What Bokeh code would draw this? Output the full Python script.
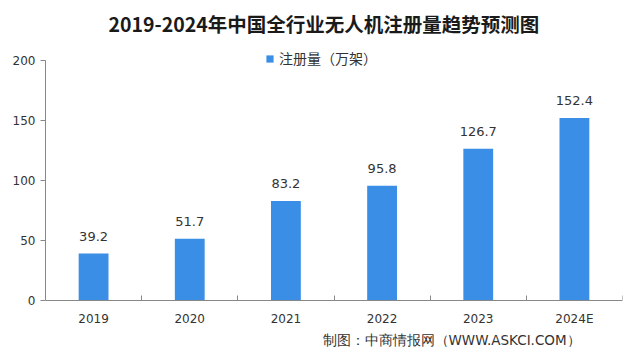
from bokeh.plotting import figure
from bokeh.models import (ColumnDataSource, FixedTicker, Range1d, Legend, LegendItem,
                          Title, Label)
from bokeh.core.properties import value
from bokeh.embed import file_html
from bokeh.resources import INLINE

years = ["2019", "2020", "2021", "2022", "2023", "2024E"]
registrations = [39.2, 51.7, 83.2, 95.8, 126.7, 152.4]
y_ticks = [0, 50, 100, 150, 200]
title_text = "2019-2024年中国全行业无人机注册量趋势预测图"
series_name = "注册量（万架）"
source_text = "制图：中商情报网（WWW.ASKCI.COM）"

BAR = "#3A8EE6"
TXT = "#333333"
CJK = "Noto Sans CJK SC"

xs = [i + 0.5 for i in range(len(years))]
src = ColumnDataSource(dict(x=xs, y=registrations,
                            label=[f"{v:.1f}" for v in registrations]))

p = figure(width=624, height=347, output_backend="svg", toolbar_location=None,
           x_range=Range1d(0, len(years)), y_range=Range1d(-39.17, 214.58),
           min_border_left=45, min_border_right=2, min_border_top=34,
           min_border_bottom=0)
p.title = None
p.outline_line_color = None
p.xgrid.grid_line_color = None
p.ygrid.grid_line_color = None
p.background_fill_color = "white"
p.border_fill_color = "white"

r = p.vbar(x="x", top="y", width=0.31, source=src, color=BAR, line_color=None)

p.text(x="x", y="y", text="label", source=src, text_align="center",
       text_baseline="bottom", y_offset=-13, text_font_size="13px",
       text_color=TXT, text_font=value("DejaVu Sans"))

# x axis at y=0: category boundary ticks as minor ticks, labels at centres
xa = p.xaxis[0]
xa.fixed_location = 0
xa.ticker = FixedTicker(ticks=xs, minor_ticks=list(range(len(years) + 1)))
xa.major_label_overrides = {x: y for x, y in zip(xs, years)}
xa.major_tick_in = 0
xa.major_tick_out = 0
xa.minor_tick_in = 5
xa.minor_tick_out = 0
xa.minor_tick_line_color = "#888888"
xa.axis_line_color = "#888888"
xa.major_label_standoff = 11
xa.major_label_text_font_size = "12px"
xa.major_label_text_color = TXT
xa.major_label_text_font = "DejaVu Sans"

ya = p.yaxis[0]
ya.ticker = FixedTicker(ticks=y_ticks)
ya.bounds = (0, 200)
ya.minor_tick_line_color = None
ya.major_tick_in = 0
ya.major_tick_out = 5
ya.major_tick_line_color = "#888888"
ya.axis_line_color = "#888888"
ya.major_label_standoff = 5
ya.major_label_text_font_size = "12px"
ya.major_label_text_color = TXT
ya.major_label_text_font = "DejaVu Sans"

legend = Legend(items=[LegendItem(label=series_name, renderers=[r])],
                location=(220, 279), orientation="horizontal",
                padding=0, margin=0, border_line_color=None,
                background_fill_alpha=0, glyph_width=9, glyph_height=9,
                label_standoff=5, label_text_font_size="14px",
                label_text_color=TXT, label_text_font=CJK, label_height=16)
p.add_layout(legend, "center")

p.add_layout(Label(x=277, y=8, x_units="screen", y_units="screen", text=source_text,
                   text_baseline="middle", text_align="left",
                   text_font="DejaVu Sans", text_font_size="13.5px",
                   text_color=TXT))
p.add_layout(Title(text=title_text, align="left", offset=63, standoff=12,
                   text_font=CJK, text_font_size="19.5px", text_font_style="bold",
                   text_color="#1A1A1A"), "above")

open("out.html", "w").write(file_html(p, INLINE))
